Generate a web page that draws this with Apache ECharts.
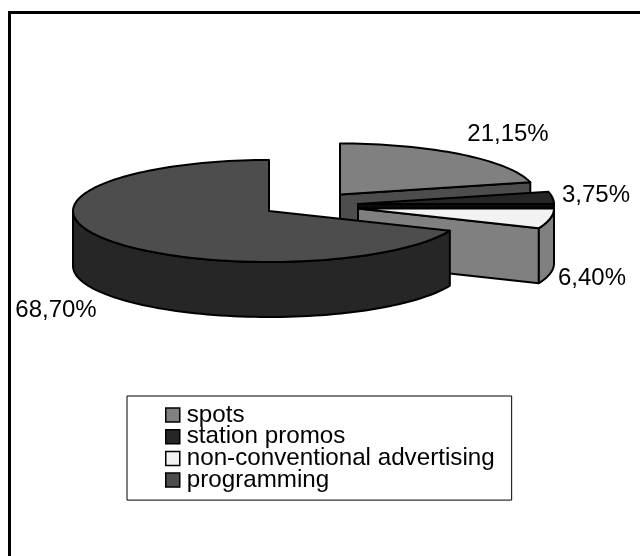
<!DOCTYPE html>
<html><head><meta charset="utf-8">
<style>html,body{margin:0;padding:0;background:#fff}#c{width:640px;height:556px}</style>
<script src="https://cdn.jsdelivr.net/npm/echarts@6/dist/echarts.min.js"></script>
</head><body><div id="c"></div>
<script>
const categories = ['spots', 'station promos', 'non-conventional advertising', 'programming'];
const shares = [21.15, 3.75, 6.40, 68.70];

const topColors = ['#808080', '#262626', '#f2f2f2', '#4d4d4d'];
const wallColors = ['#4d4d4d', '#0a0a0a', '#808080', '#262626'];
const apexes = [[340, 194.5], [358, 204], [358, 208.5], [269, 211]];
const labelAt = [[508, 134], [596, 195], [592, 278], [56, 310]];
const RX = 196, RY = 51, DEPTH = 55, STROKE = 2;

const total = shares.reduce((a, b) => a + b, 0);
const fmt = v => v.toFixed(2).replace('.', ',') + '%';

function renderSlice(idx) {
  return function (params, api) {
    let before = 0;
    for (let i = 0; i < idx; i++) before += shares[i];
    const a0 = before / total * 360;
    const a1 = (before + api.value(0)) / total * 360;
    const [cx, cy] = apexes[idx];
    const pt = (deg, dy) => {
      const r = deg * Math.PI / 180;
      return [cx + RX * Math.sin(r), cy - RY * Math.cos(r) + (dy || 0)];
    };
    const arc = (from, to, dy) => {
      const out = [], n = Math.max(2, Math.ceil((to - from) / 2));
      for (let k = 0; k <= n; k++) out.push(pt(from + (to - from) * k / n, dy));
      return out;
    };
    const style = fill => ({ fill, stroke: '#000', lineWidth: STROKE, lineJoin: 'round' });
    const children = [];
    // straight inner wall on the clockwise end, seen when it faces the viewer
    if (a1 > 0 && a1 < 180) {
      const e = pt(a1);
      children.push({ type: 'polygon', shape: { points: [[cx, cy], e, [e[0], e[1] + DEPTH], [cx, cy + DEPTH]] }, style: style(wallColors[idx]) });
    }
    // outer curved wall, front half only
    const w0 = Math.max(a0, 90), w1 = Math.min(a1, 270);
    if (w1 > w0) {
      const top = arc(w0, w1, 0), bottom = arc(w0, w1, DEPTH).reverse();
      children.push({ type: 'polygon', shape: { points: top.concat(bottom) }, style: style(wallColors[idx]) });
    }
    // top face
    children.push({ type: 'polygon', shape: { points: [[cx, cy]].concat(arc(a0, a1, 0)) }, style: style(topColors[idx]) });
    children.push({
      type: 'text',
      style: { x: labelAt[idx][0], y: labelAt[idx][1], text: fmt(api.value(0)), fill: '#000', font: '24px "Liberation Sans", Arial, sans-serif', textAlign: 'center', textVerticalAlign: 'middle' }
    });
    return { type: 'group', children };
  };
}

const chart = echarts.init(document.getElementById('c'), null, { renderer: 'canvas' });
chart.setOption({
  animation: false,
  backgroundColor: '#fff',
  graphic: [
    { type: 'polyline', silent: true, z: 0, shape: { points: [[9.5, 556], [9.5, 12.5], [640, 12.5]] }, style: { stroke: '#000', fill: null, lineWidth: 3 } }
  ],
  legend: {
    orient: 'vertical', left: 127, top: 396, align: 'left',
    padding: [7, 17, 8, 38],
    backgroundColor: '#fff', borderColor: '#000', borderWidth: 1, borderRadius: 0,
    itemGap: -2.3, itemWidth: 14, itemHeight: 14,
    data: categories.map((name, i) => ({ name, icon: 'rect', itemStyle: { color: topColors[i], borderColor: '#000', borderWidth: 1.5 } })),
    textStyle: { fontFamily: '"Liberation Sans", Arial, sans-serif', fontSize: 24.2, color: '#000', lineHeight: 22, padding: [0, 0, 0, 2] }
  },
  series: categories.map((name, i) => ({
    type: 'custom', name, coordinateSystem: 'none', silent: true,
    itemStyle: { color: topColors[i] },
    data: [[shares[i]]],
    renderItem: renderSlice(i)
  }))
});
</script></body></html>
